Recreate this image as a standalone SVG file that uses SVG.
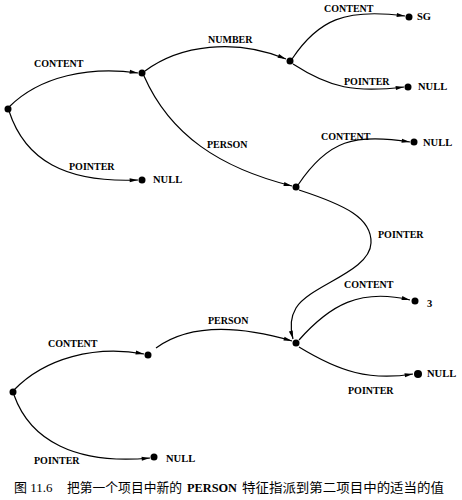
<svg xmlns="http://www.w3.org/2000/svg" width="462" height="500" viewBox="0 0 462 500">
<style>
.e{fill:none;stroke:#000;stroke-width:1.2;marker-end:url(#ah)}
.d{fill:#000}
.l{font-family:"Liberation Serif","Times New Roman",serif;font-weight:bold;font-size:10px;fill:#000}
.v{font-family:"Liberation Serif","Times New Roman",serif;font-weight:bold;font-size:10.5px;fill:#000}
.c{font-family:"Liberation Serif","Noto Sans CJK SC",serif;font-size:13px;fill:#000}
</style>
<defs>
<marker id="ah" viewBox="0 0 10 6" refX="10" refY="3" markerWidth="10" markerHeight="5" markerUnits="userSpaceOnUse" orient="auto">
<path d="M0,0.6 L10,3 L0,5.4 z" fill="#000"/>
</marker>
</defs>
<rect width="462" height="500" fill="#fff"/>
<g id="connectors">
<path class="e" d="M9,107 C40,76 90,66 138,73"/>
<path class="e" d="M9,111 C25,160 65,183 138,180"/>
<path class="e" d="M145,71 C180,45 235,38 286,59"/>
<path class="e" d="M144,76 C170,135 220,168 292,186"/>
<path class="e" d="M292,59 C318,20 345,8 405,16"/>
<path class="e" d="M293,64 C330,88 355,93 404,87"/>
<path class="e" d="M298,185 C328,140 355,133 410,142"/>
<path class="e" d="M299,190 C345,205 372,218 371,243 C370,272 310,285 296,308 C290,318 290,328 293,339"/>
<path class="e" d="M14,390 C45,358 95,345 144,354"/>
<path class="e" d="M14,395 C30,440 75,465 150,458"/>
<path class="e" d="M156,348 C185,327 230,323 292,341"/>
<path class="e" d="M299,340 C330,305 360,288 410,300"/>
<path class="e" d="M299,347 C340,372 370,381 413,374"/>
</g>
<g id="labels">
<text class="l" x="34" y="67">CONTENT</text>
<text class="l" x="69" y="170">POINTER</text>
<text class="l" x="208" y="43">NUMBER</text>
<text class="l" x="207" y="148">PERSON</text>
<text class="l" x="324" y="12">CONTENT</text>
<text class="l" x="344" y="85">POINTER</text>
<text class="l" x="321" y="140">CONTENT</text>
<text class="l" x="378" y="238">POINTER</text>
<text class="l" x="344" y="288">CONTENT</text>
<text class="l" x="208" y="324">PERSON</text>
<text class="l" x="48" y="347">CONTENT</text>
<text class="l" x="34" y="464">POINTER</text>
<text class="l" x="348" y="394">POINTER</text>
</g>
<g id="n-root1"><circle class="d" cx="8" cy="109" r="3.5"/></g>
<g id="n-content1"><circle class="d" cx="142" cy="73" r="3.5"/></g>
<g id="n-number"><circle class="d" cx="290" cy="61" r="3.5"/></g>
<g id="n-sg"><circle class="d" cx="409" cy="17" r="3.5"/><text class="v" x="417" y="20">SG</text></g>
<g id="n-null1"><circle class="d" cx="408" cy="87" r="3.5"/><text class="v" x="418" y="90">NULL</text></g>
<g id="n-person"><circle class="d" cx="296" cy="187" r="3.5"/></g>
<g id="n-null2"><circle class="d" cx="414" cy="142" r="3.5"/><text class="v" x="423" y="146">NULL</text></g>
<g id="n-null3"><circle class="d" cx="142" cy="180" r="3.5"/><text class="v" x="153" y="183">NULL</text></g>
<g id="n-root2"><circle class="d" cx="13" cy="392" r="3.5"/></g>
<g id="n-content2"><circle class="d" cx="148" cy="355" r="3.5"/></g>
<g id="n-person2"><circle class="d" cx="296" cy="343" r="3.5"/></g>
<g id="n-three"><circle class="d" cx="415" cy="301" r="3.5"/><text class="v" x="427" y="307">3</text></g>
<g id="n-null4"><circle class="d" cx="418" cy="374" r="4"/><text class="v" x="427" y="377">NULL</text></g>
<g id="n-null5"><circle class="d" cx="154" cy="457" r="3.5"/><text class="v" x="166" y="462">NULL</text></g>
<g id="caption">
<text class="c" x="14" y="492">图 11.6</text>
<text class="c" x="67" y="492" textLength="115" lengthAdjust="spacingAndGlyphs">把第一个项目中新的</text>
<text class="c" x="187" y="492" font-weight="bold" textLength="50" lengthAdjust="spacingAndGlyphs">PERSON</text>
<text class="c" x="242" y="492" textLength="202" lengthAdjust="spacingAndGlyphs">特征指派到第二项目中的适当的值</text>
</g>
</svg>
